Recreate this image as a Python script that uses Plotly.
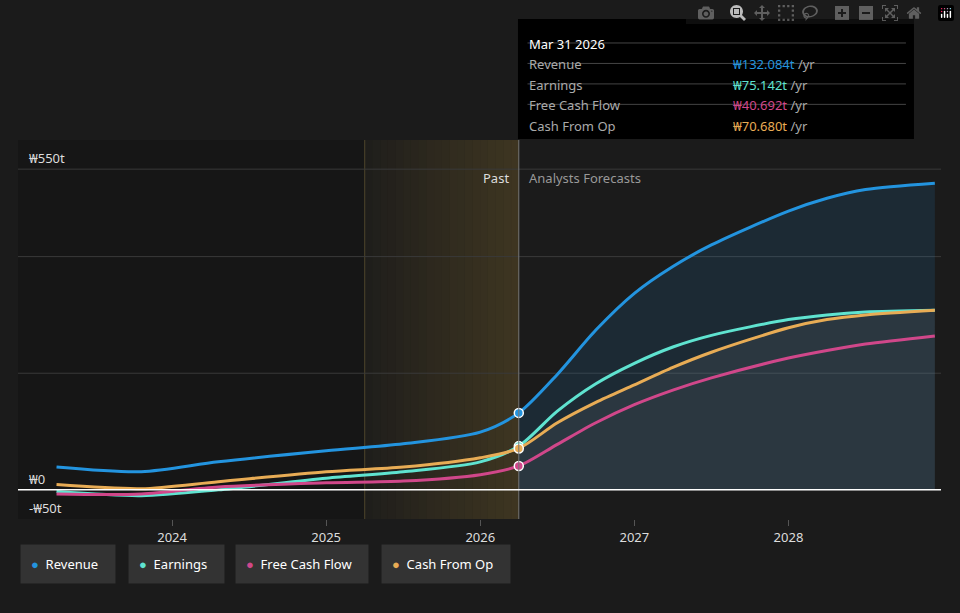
import plotly.graph_objects as go

years = [2023.25, 2023.8, 2024.3, 2025.0, 2025.5, 2026.0, 2026.25, 2026.5, 2026.75, 2027.0, 2027.25, 2027.5, 2028.0, 2028.25, 2028.5, 2028.95]
revenue = [39, 31, 48, 67, 79, 99, 132, 198, 274, 337, 383, 420, 478, 500, 515, 526]
earnings = [-3, -10, 0, 20, 31, 48, 75, 135, 182, 217, 245, 265, 292, 300, 305, 308]
fcf = [-7, -7, 5, 12, 15, 26, 41, 78, 115, 146, 171, 192, 226, 239, 250, 264]
cfo = [9, 2, 14, 31, 39, 55, 71, 115, 150, 180, 210, 236, 278, 292, 300, 308]
now = 2026.25
past_start = 2025.25

names = ["Revenue", "Earnings", "Free Cash Flow", "Cash From Op"]
colors = ["#2394df", "#5fe3d0", "#d0478a", "#e8ac55"]
series = [revenue, earnings, fcf, cfo]
tip_vals = ["₩132.084t", "₩75.142t", "₩40.692t", "₩70.680t"]

fig = go.Figure()
ni = years.index(now)
fig.add_trace(go.Scatter(x=years[ni:], y=revenue[ni:], fill="tozeroy", mode="none",
                         fillcolor="rgba(35,148,223,0.13)", line_shape="spline", hoverinfo="skip"))
fig.add_trace(go.Scatter(x=years[ni:], y=cfo[ni:], fill="tozeroy", mode="none",
                         fillcolor="rgba(150,150,150,0.13)", line_shape="spline", hoverinfo="skip"))
for n, c, s in zip(names, colors, series):
    fig.add_trace(go.Scatter(x=years, y=s, mode="lines", line=dict(color=c, width=3, shape="spline", smoothing=0.8), name=n))
    fig.add_trace(go.Scatter(x=[now], y=[s[ni]], mode="markers",
                             marker=dict(color=c, size=9, line=dict(color="white", width=1.5))))

shapes = [
    dict(type="rect", xref="x", yref="paper", x0=2023.0, x1=past_start, y0=0, y1=1,
         fillcolor="rgba(0,0,0,0.15)", line_width=0, layer="below"),
    dict(type="line", xref="x", yref="paper", x0=past_start, x1=past_start, y0=0, y1=1,
         line=dict(color="rgba(200,170,90,0.3)", width=1), layer="below"),
    dict(type="line", xref="x", yref="paper", x0=now, x1=now, y0=0, y1=1.0,
         line=dict(color="#777", width=1)),
    dict(type="line", xref="paper", yref="y", x0=0, x1=1, y0=0, y1=0, line=dict(color="white", width=1.5)),
    dict(type="rect", xref="paper", yref="paper", x0=0.5417, x1=0.9707, y0=1.0026, y1=1.319,
         fillcolor="black", line_width=0),
]
# gradient for past region
steps = 20
for k in range(steps):
    a0 = past_start + (now - past_start) * k / steps
    a1 = past_start + (now - past_start) * (k + 1) / steps
    shapes.append(dict(type="rect", xref="x", yref="paper", x0=a0, x1=a1, y0=0, y1=1, line_width=0,
                       fillcolor=f"rgba(150,120,50,{0.04 + 0.26 * k / steps:.3f})", layer="below"))
for g in [200, 400, 550]:
    shapes.append(dict(type="line", xref="paper", yref="y", x0=0, x1=1, y0=g, y1=g,
                       line=dict(color="#3a3a3a", width=1), layer="below"))

ann = [
    dict(x=0.01, y=550, xref="paper", yref="y", text="₩550t", showarrow=False, xanchor="left", yanchor="bottom", font=dict(color="#ddd", size=13)),
    dict(x=0.01, y=0, xref="paper", yref="y", text="₩0", showarrow=False, xanchor="left", yanchor="bottom", font=dict(color="#ddd", size=13)),
    dict(x=0.01, y=-50, xref="paper", yref="y", text="-₩50t", showarrow=False, xanchor="left", yanchor="bottom", font=dict(color="#ddd", size=13)),
    dict(x=now, y=535, xref="x", yref="y", text="Past", showarrow=False, xanchor="right", xshift=-8, font=dict(color="#ddd", size=13)),
    dict(x=now, y=535, xref="x", yref="y", text="Analysts Forecasts", showarrow=False, xanchor="left", xshift=8, font=dict(color="#999", size=13)),
    dict(x=0.552, y=1.283, xref="paper", yref="paper", text="Mar 31 2026", showarrow=False, xanchor="left", font=dict(color="white", size=13)),
]
for i, (n, c, v) in enumerate(zip(names, colors, tip_vals)):
    yy = 1.229 - i * 0.054
    ann.append(dict(x=0.552, y=yy, xref="paper", yref="paper", text=n, showarrow=False, xanchor="left", font=dict(color="#aaa", size=13)))
    ann.append(dict(x=0.773, y=yy, xref="paper", yref="paper", showarrow=False, xanchor="left",
                    text=f"<span style='color:{c}'>{v}</span> <span style='color:#aaa'>/yr</span>", font=dict(size=13)))
    shapes.append(dict(type="line", xref="paper", yref="paper", x0=0.552, x1=0.962, y0=yy + 0.027, y1=yy + 0.027,
                       line=dict(color="#444", width=1)))

legend_x = [0.002, 0.119, 0.235, 0.393]
for n, c, lx in zip(names, colors, legend_x):
    ann.append(dict(x=lx, y=-0.171, xref="paper", yref="paper", xanchor="left", showarrow=False,
                    text=f"<span style='color:{c}'>●</span>  {n}  ", bgcolor="#333", borderpad=10,
                    font=dict(color="white", size=13)))

fig.update_layout(
    width=960, height=613, showlegend=False,
    paper_bgcolor="#1b1b1b", plot_bgcolor="#1b1b1b",
    margin=dict(l=18, r=19, t=140, b=94),
    font=dict(family="Noto Sans", color="#ddd"),
    xaxis=dict(range=[2023.0, 2028.99], tickvals=[2024, 2025, 2026, 2027, 2028], showgrid=False,
               zeroline=False, tickfont=dict(size=13, color="#ddd"), ticks="outside", ticklen=6, tickcolor="#555"),
    yaxis=dict(range=[-50, 600], showgrid=False, zeroline=False, showticklabels=False),
    shapes=shapes, annotations=ann,
)
fig.write_html("out.html", post_script="document.body.style.margin='0';document.body.style.background='#1b1b1b';")
